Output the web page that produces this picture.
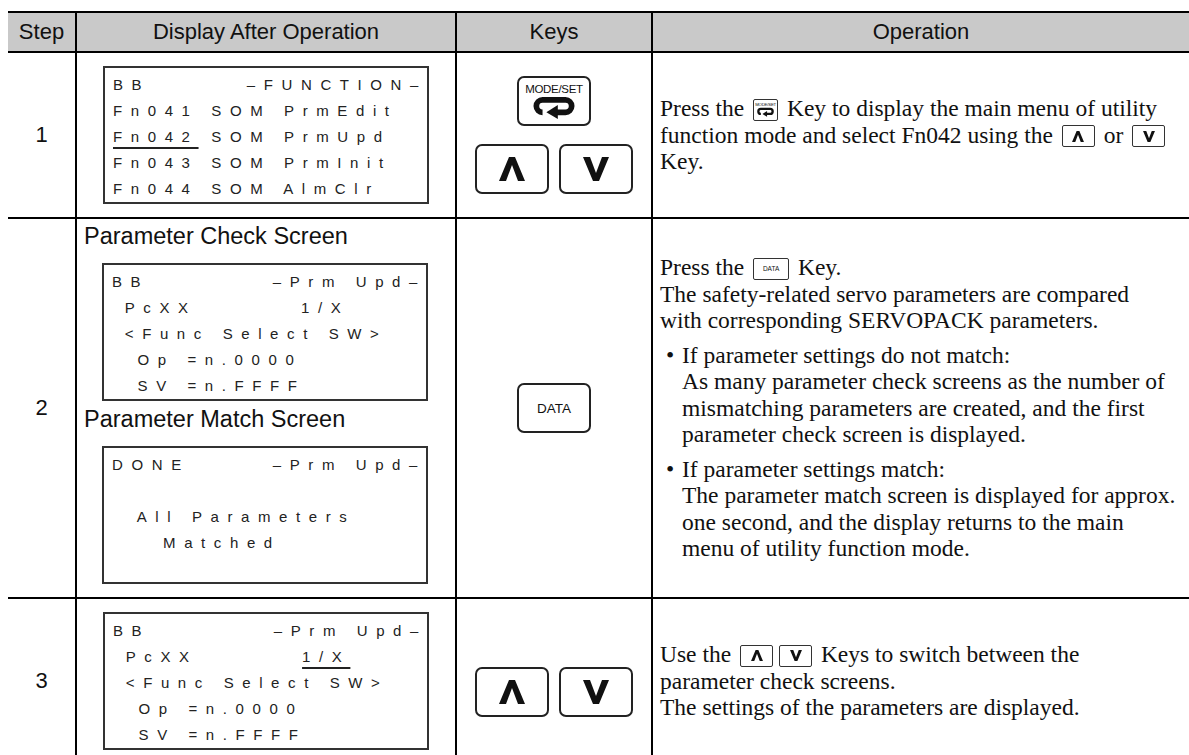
<!DOCTYPE html>
<html>
<head>
<meta charset="utf-8">
<script src="https://cdn.jsdelivr.net/npm/chart.js@4.4.1/dist/chart.umd.min.js"></script>
<style>
  body { margin: 0; background: #fff; width: 1189px; height: 755px; overflow: hidden; position: relative; font-family: Arial, "Liberation Sans", sans-serif; color: #111; }
  .grid { position: absolute; left: 8px; top: 11px; display: grid; grid-template-columns: 67px 380px 196px 538px; grid-template-rows: 40px 166px 380px 166px; border-top: 2px solid #000; }
  .cell { box-sizing: border-box; border-bottom: 2px solid #000; position: relative; }
  .cell.c1, .cell.c2, .cell.c3 { border-left: 2px solid #000; }
  .head { background: #c9c9c9; font-size: 22px; display: flex; align-items: center; justify-content: center; }
  .step { font-size: 22px; display: flex; align-items: center; justify-content: center; }
  .disp { display: flex; flex-direction: column; align-items: center; justify-content: center; }
  .disp.labelled { justify-content: flex-start; align-items: stretch; padding: 4px 0 0 7px; }
  .label { font-size: 23.5px; line-height: 26px; }
  .lcd { box-sizing: border-box; width: 326px; height: 138px; border: 2px solid #333; padding: 4px 0 0 8px; color: #222; }
  .labelled .lcd { margin-left: 18px; }
  .lcd .ln { display: flex; height: 26px; line-height: 26px; font-size: 15px; letter-spacing: 8.6px; white-space: pre; }
  .lcd .ln .r { margin-left: auto; }
  .lcd u { text-underline-offset: 5px; text-decoration-thickness: 1.5px; }
  .keys { display: flex; flex-direction: column; align-items: center; justify-content: center; gap: 18px; }
  .keys.low { padding-top: 22px; }
  .keyrow { display: flex; gap: 10px; }
  .key { box-sizing: border-box; width: 74px; height: 50px; border: 2px solid #222; border-radius: 7px; display: flex; align-items: center; justify-content: center; background: #fff; }
  .key.mode { flex-direction: column; justify-content: flex-start; padding-top: 4px; }
  .key.mode .t { font-size: 11.5px; letter-spacing: -0.3px; line-height: 14px; }
  .key.data { font-size: 13.5px; }
  .op { font-family: "Liberation Serif", "Times New Roman", serif; font-size: 23.5px; line-height: 26.5px; padding-left: 7px; display: flex; flex-direction: column; justify-content: center; white-space: nowrap; color: #111; }
  .op .bul { position: relative; padding-left: 22px; margin-top: 8px; }
  .op .bul::before { content: "\2022"; position: absolute; left: 6px; top: 0; }
  .ik { box-sizing: border-box; display: inline-flex; align-items: center; justify-content: center; vertical-align: middle; line-height: 0; border: 1.5px solid #333; border-radius: 2px; background: #fff; margin: -4px 3px 0 3px; position: relative; top: 1px; }
  .ik.updown { width: 33px; height: 22px; }
  .ik.mini { width: 25px; height: 22px; flex-direction: column; }
  .ik.mini .t { font-family: Arial, sans-serif; font-size: 4.3px; line-height: 5px; letter-spacing: -0.2px; }
  .ik.dt { width: 36px; height: 22px; font-family: Arial, sans-serif; font-size: 6.5px; }
</style>
</head>
<body>
<div class="grid" id="grid"></div>
<script>
// table contents
var headerLabels = ["Step", "Display After Operation", "Keys", "Operation"];
var stepNumbers = ["1", "2", "3"];

// operator display screens: [left part, right part] per line
var functionScreen = [
  ["BB", "\u2013FUNCTION\u2013"],
  ["Fn041 SOM PrmEdit", ""],
  ["<u>Fn042</u> SOM PrmUpd", ""],
  ["Fn043 SOM PrmInit", ""],
  ["Fn044 SOM AlmClr", ""]
];
var checkScreen = [
  ["BB", "\u2013Prm Upd\u2013"],
  [" PcXX", "1/X      "],
  [" &lt;Func Select SW&gt;", ""],
  ["  Op =n.0000", ""],
  ["  SV =n.FFFF", ""]
];
var matchScreen = [
  ["DONE", "\u2013Prm Upd\u2013"],
  ["", ""],
  ["  All Parameters", ""],
  ["    Matched", ""]
];
var switchScreen = [
  ["BB", "\u2013Prm Upd\u2013"],
  [" PcXX", "<u>1/X</u>      "],
  [" &lt;Func Select SW&gt;", ""],
  ["  Op =n.0000", ""],
  ["  SV =n.FFFF", ""]
];
var screenLabels = ["Parameter Check Screen", "Parameter Match Screen"];

// keys used in each step
var stepKeys = [
  [["MODE"], ["UP", "DOWN"]],
  [["DATA"]],
  [["UP", "DOWN"]]
];

// operation text, one string per printed line; "*" starts a bullet, "+" continues it
var operationLines = [
  [
    "Press the {MODE} Key to display the main menu of utility",
    "function mode and select Fn042 using the {UP} or {DOWN}",
    "Key."
  ],
  [
    "Press the {DATA} Key.",
    "The safety-related servo parameters are compared",
    "with corresponding SERVOPACK parameters.",
    "*If parameter settings do not match:",
    "+As many parameter check screens as the number of",
    "+mismatching parameters are created, and the first",
    "+parameter check screen is displayed.",
    "*If parameter settings match:",
    "+The parameter match screen is displayed for approx.",
    "+one second, and the display returns to the main",
    "+menu of utility function mode."
  ],
  [
    "Use the {UP}{DOWN} Keys to switch between the",
    "parameter check screens.",
    "The settings of the parameters are displayed."
  ]
];

// small drawings for the keys
function chevron(up, w, h) {
  var pts = up ? "10,0 16,0 26,24 19,24 13,8 7,24 0,24" : "0,0 7,0 13,16 19,0 26,0 16,24 10,24";
  return '<svg width="' + w + '" height="' + h + '" viewBox="0 0 26 24"><polygon points="' + pts + '" fill="#111"/></svg>';
}
function loop(w, h) {
  return '<svg width="' + w + '" height="' + h + '" viewBox="0 0 44 24">' +
    '<path d="M10 17 A6.5 6.5 0 0 1 10 4 H34 A6.5 6.5 0 0 1 34 17 H24" fill="none" stroke="#111" stroke-width="6"/>' +
    '<polygon points="14,17 26,9.5 26,24" fill="#111"/></svg>';
}
function bigKey(name) {
  if (name === "MODE") return '<div class="key mode"><div class="t">MODE/SET</div>' + loop(42, 23) + '</div>';
  if (name === "DATA") return '<div class="key data">DATA</div>';
  return '<div class="key">' + chevron(name === "UP", 26, 24) + '</div>';
}
function inlineKey(name) {
  if (name === "MODE") return '<span class="ik mini"><span class="t">MODE/SET</span>' + loop(17, 10) + '</span>';
  if (name === "DATA") return '<span class="ik dt">DATA</span>';
  return '<span class="ik updown">' + chevron(name === "UP", 12, 11) + '</span>';
}

function lcd(lines) {
  var h = '<div class="lcd">';
  lines.forEach(function (l) {
    h += '<div class="ln"><span>' + l[0] + '</span><span class="r">' + l[1] + '</span></div>';
  });
  return h + '</div>';
}

var grid = document.getElementById("grid");
function addCell(cls, html) {
  var d = document.createElement("div");
  d.className = "cell " + cls;
  d.innerHTML = html;
  grid.appendChild(d);
}

headerLabels.forEach(function (t, i) { addCell("head c" + i, t); });

var displays = [
  lcd(functionScreen),
  '<div class="label">' + screenLabels[0] + '</div><div style="height:14px"></div>' + lcd(checkScreen) +
  '<div class="label" style="margin-top:5px">' + screenLabels[1] + '</div><div style="height:14px"></div>' + lcd(matchScreen),
  lcd(switchScreen)
];

stepNumbers.forEach(function (n, r) {
  addCell("step c0", n);
  addCell("disp c1" + (r === 1 ? " labelled" : ""), displays[r]);
  var k = "";
  stepKeys[r].forEach(function (row) {
    k += '<div class="keyrow">' + row.map(bigKey).join("") + '</div>';
  });
  addCell("keys c2" + (r === 2 ? " low" : ""), k);
  var parts = [];
  operationLines[r].forEach(function (line) {
    var txt = line.replace(/\{(\w+)\}/g, function (m, name) { return inlineKey(name); });
    if (txt.charAt(0) === "*") parts.push({ bul: true, html: txt.slice(1) });
    else if (txt.charAt(0) === "+") parts[parts.length - 1].html += "<br>" + txt.slice(1);
    else parts.push({ bul: false, html: txt });
  });
  addCell("op c3", parts.map(function (p) {
    return '<div' + (p.bul ? ' class="bul"' : '') + '>' + p.html + '</div>';
  }).join(""));
});
</script>
</body>
</html>
